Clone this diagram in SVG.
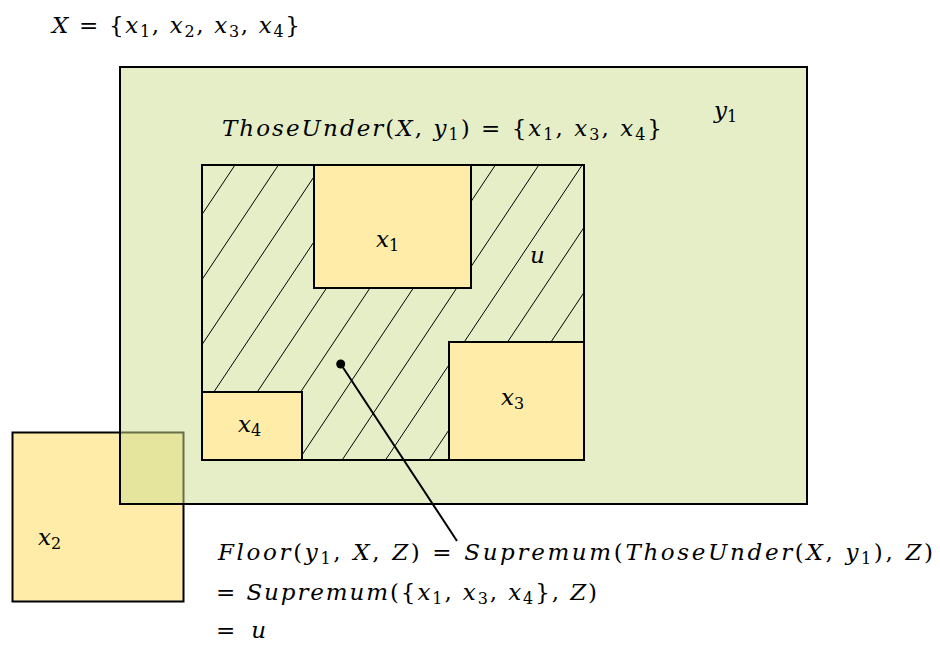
<svg xmlns="http://www.w3.org/2000/svg" width="940" height="645" viewBox="0 0 940 645">
<style>
text{font-family:'DejaVu Serif',serif;font-size:23px;fill:#000}
.i{font-style:italic}
.s{font-size:16px;font-style:normal}
.box{fill:#ffeca8;stroke:#000;stroke-width:2}
.h{stroke:#000;stroke-width:1;fill:none}
</style>
<defs>
<clipPath id="uclip"><rect x="202" y="165" width="382" height="295"/></clipPath>
</defs>
<rect width="940" height="645" fill="#fff"/>
<g id="x2">
<rect class="box" x="12.5" y="432.5" width="171" height="169"/>
<text x="38" y="545"><tspan class="i">x</tspan><tspan class="s" dy="4">2</tspan></text>
</g>
<g id="y1">
<rect x="120" y="67" width="687" height="437" fill="#cddd91" fill-opacity="0.5" stroke="#000" stroke-width="2"/>
<text x="714" y="118"><tspan class="i">y</tspan><tspan class="s" dy="4">1</tspan></text>
<text x="222" y="136" textLength="440" lengthAdjust="spacing"><tspan class="i">ThoseUnder</tspan>(<tspan class="i">X</tspan>, <tspan class="i">y</tspan><tspan class="s" dy="4">1</tspan><tspan dy="-4">) = {</tspan><tspan class="i">x</tspan><tspan class="s" dy="4">1</tspan><tspan dy="-4">, </tspan><tspan class="i">x</tspan><tspan class="s" dy="4">3</tspan><tspan dy="-4">, </tspan><tspan class="i">x</tspan><tspan class="s" dy="4">4</tspan><tspan dy="-4">}</tspan></text>
</g>
<g id="u">
<g clip-path="url(#uclip)">
<line class="h" x1="235" y1="165" x2="38.3" y2="460"/>
<line class="h" x1="278.4" y1="165" x2="81.7" y2="460"/>
<line class="h" x1="321.8" y1="165" x2="125.1" y2="460"/>
<line class="h" x1="365.2" y1="165" x2="168.5" y2="460"/>
<line class="h" x1="408.6" y1="165" x2="211.9" y2="460"/>
<line class="h" x1="452" y1="165" x2="255.3" y2="460"/>
<line class="h" x1="495.4" y1="165" x2="298.7" y2="460"/>
<line class="h" x1="538.8" y1="165" x2="342.1" y2="460"/>
<line class="h" x1="582.2" y1="165" x2="385.5" y2="460"/>
<line class="h" x1="625.6" y1="165" x2="428.9" y2="460"/>
<line class="h" x1="669" y1="165" x2="472.3" y2="460"/>
<line class="h" x1="712.4" y1="165" x2="515.7" y2="460"/>
<line class="h" x1="755.8" y1="165" x2="559.1" y2="460"/>
</g>
<rect x="202" y="165" width="382" height="295" fill="none" stroke="#000" stroke-width="2"/>
<text x="530" y="263" class="i">u</text>
</g>
<g id="x1">
<rect class="box" x="314" y="165" width="157" height="123"/>
<text x="376" y="247"><tspan class="i">x</tspan><tspan class="s" dy="4">1</tspan></text>
</g>
<g id="x3">
<rect class="box" x="449" y="342" width="135" height="118"/>
<text x="501" y="405"><tspan class="i">x</tspan><tspan class="s" dy="4">3</tspan></text>
</g>
<g id="x4">
<rect class="box" x="202" y="392" width="100" height="68"/>
<text x="238" y="432"><tspan class="i">x</tspan><tspan class="s" dy="4">4</tspan></text>
</g>
<g id="connectors">
<circle cx="340.7" cy="364" r="4.5" fill="#000"/>
<line x1="340.7" y1="364" x2="457" y2="541" stroke="#000" stroke-width="2"/>
</g>
<g id="X">
<text x="52" y="33" textLength="248" lengthAdjust="spacing"><tspan class="i">X</tspan> = {<tspan class="i">x</tspan><tspan class="s" dy="4">1</tspan><tspan dy="-4">, </tspan><tspan class="i">x</tspan><tspan class="s" dy="4">2</tspan><tspan dy="-4">, </tspan><tspan class="i">x</tspan><tspan class="s" dy="4">3</tspan><tspan dy="-4">, </tspan><tspan class="i">x</tspan><tspan class="s" dy="4">4</tspan><tspan dy="-4">}</tspan></text>
</g>
<g id="floor">
<text x="218" y="560" textLength="715" lengthAdjust="spacing"><tspan class="i">Floor</tspan>(<tspan class="i">y</tspan><tspan class="s" dy="4">1</tspan><tspan dy="-4">, </tspan><tspan class="i">X</tspan>, <tspan class="i">Z</tspan>) = <tspan class="i">Supremum</tspan>(<tspan class="i">ThoseUnder</tspan>(<tspan class="i">X</tspan>, <tspan class="i">y</tspan><tspan class="s" dy="4">1</tspan><tspan dy="-4">), </tspan><tspan class="i">Z</tspan>)</text>
<text x="216" y="600" textLength="381" lengthAdjust="spacing">= <tspan class="i">Supremum</tspan>({<tspan class="i">x</tspan><tspan class="s" dy="4">1</tspan><tspan dy="-4">, </tspan><tspan class="i">x</tspan><tspan class="s" dy="4">3</tspan><tspan dy="-4">, </tspan><tspan class="i">x</tspan><tspan class="s" dy="4">4</tspan><tspan dy="-4">}, </tspan><tspan class="i">Z</tspan>)</text>
<text x="216" y="638" textLength="50" lengthAdjust="spacing">= <tspan class="i">u</tspan></text>
</g>
</svg>
